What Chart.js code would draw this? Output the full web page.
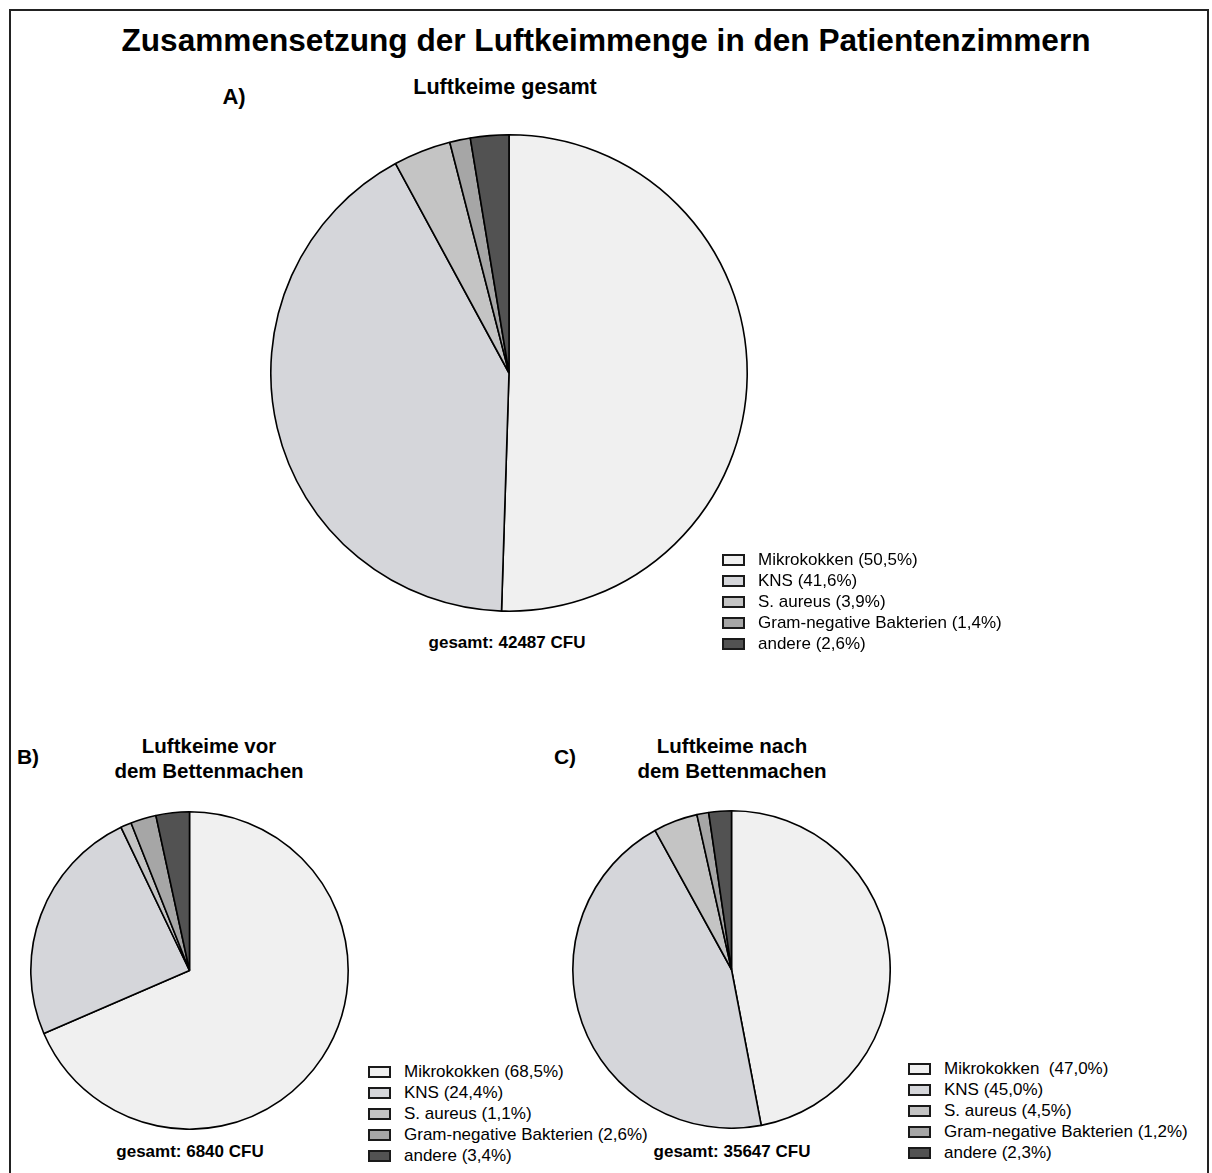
<!DOCTYPE html>
<html>
<head>
<meta charset="utf-8">
<script src="https://cdn.jsdelivr.net/npm/chart.js@4/dist/chart.umd.min.js"></script>
<style>
  body { margin: 0; background: #fff; font-family: "Liberation Sans", Arial, sans-serif; color: #000; }
  #page { position: relative; width: 1212px; height: 1173px; overflow: hidden; }
  #frame { position: absolute; left: 9px; top: 9px; width: 1196px; height: 1180px; border: 2px solid #222; }
  .t { position: absolute; transform: translate(-50%, -50%); white-space: nowrap; font-weight: bold; text-align: center; }
  .pie { position: absolute; }
  .legend { position: absolute; font-size: 17px; }
  .legend .row { position: relative; height: 21px; line-height: 21px; white-space: pre; padding-left: 36px; }
  .legend .box { position: absolute; left: 0; top: 5px; width: 23px; height: 12px; box-sizing: border-box; border: 2px solid #1a1a1a; }
</style>
</head>
<body>
<div id="page">
  <div id="frame"></div>

  <div class="t" style="left:606px; top:40px; font-size:31.6px;">Zusammensetzung der Luftkeimmenge in den Patientenzimmern</div>

  <div class="t" style="left:234px; top:97px; font-size:22px;">A)</div>
  <div class="t" style="left:505px; top:87px; font-size:21.6px;">Luftkeime gesamt</div>
  <div class="pie" style="left:270px; top:134px; width:478px; height:478px;"><canvas id="pieA"></canvas></div>
  <div class="t" style="left:507px; top:643px; font-size:17px;">gesamt: 42487 CFU</div>
  <div class="legend" id="legendA" style="left:722px; top:549px;"></div>

  <div class="t" style="left:28px; top:757px; font-size:21px;">B)</div>
  <div class="t" style="left:209px; top:758px; font-size:20.5px; line-height:25px;">Luftkeime vor<br>dem Bettenmachen</div>
  <div class="pie" style="left:30px; top:811px; width:319px; height:319px;"><canvas id="pieB"></canvas></div>
  <div class="t" style="left:190px; top:1152px; font-size:17px;">gesamt: 6840 CFU</div>
  <div class="legend" id="legendB" style="left:368px; top:1061px;"></div>

  <div class="t" style="left:565px; top:757px; font-size:21px;">C)</div>
  <div class="t" style="left:732px; top:758px; font-size:20.5px; line-height:25px;">Luftkeime nach<br>dem Bettenmachen</div>
  <div class="pie" style="left:572px; top:810px; width:319px; height:319px;"><canvas id="pieC"></canvas></div>
  <div class="t" style="left:732px; top:1152px; font-size:17px;">gesamt: 35647 CFU</div>
  <div class="legend" id="legendC" style="left:908px; top:1058px;"></div>
</div>

<script>
// Data (percent shares)
const categories = ['Mikrokokken', 'KNS', 'S. aureus', 'Gram-negative Bakterien', 'andere'];
const valuesA = [50.5, 41.6, 3.9, 1.4, 2.6];   // Luftkeime gesamt
const valuesB = [68.5, 24.4, 1.1, 2.6, 3.4];   // vor dem Bettenmachen
const valuesC = [47.0, 45.0, 4.5, 1.2, 2.3];   // nach dem Bettenmachen
const legendNamesC = ['Mikrokokken ', 'KNS', 'S. aureus', 'Gram-negative Bakterien', 'andere'];

const sliceColors = ['#f0f0f0', '#d5d6da', '#c4c4c4', '#a6a6a6', '#525252'];

function pct(v) {
    return v.toFixed(1).replace('.', ',');
}

function makePie(id, values) {
    const ctx = document.getElementById(id).getContext('2d');
    return new Chart(ctx, {
        type: 'pie',
        data: {
            labels: categories,
            datasets: [{
                data: values,
                backgroundColor: sliceColors,
                borderColor: '#000',
                borderWidth: 1.6
            }]
        },
        options: {
            responsive: true,
            maintainAspectRatio: false,
            animation: false,
            layout: { padding: 0 },
            plugins: {
                legend: { display: false },
                tooltip: { enabled: false }
            }
        }
    });
}

function makeLegend(id, values, names) {
    const el = document.getElementById(id);
    names.forEach((name, i) => {
        const row = document.createElement('div');
        row.className = 'row';
        const box = document.createElement('span');
        box.className = 'box';
        box.style.background = sliceColors[i];
        row.appendChild(box);
        row.appendChild(document.createTextNode(name + ' (' + pct(values[i]) + '%)'));
        el.appendChild(row);
    });
}

makePie('pieA', valuesA);
makePie('pieB', valuesB);
makePie('pieC', valuesC);

makeLegend('legendA', valuesA, categories);
makeLegend('legendB', valuesB, categories);
makeLegend('legendC', valuesC, legendNamesC);
</script>
</body>
</html>
